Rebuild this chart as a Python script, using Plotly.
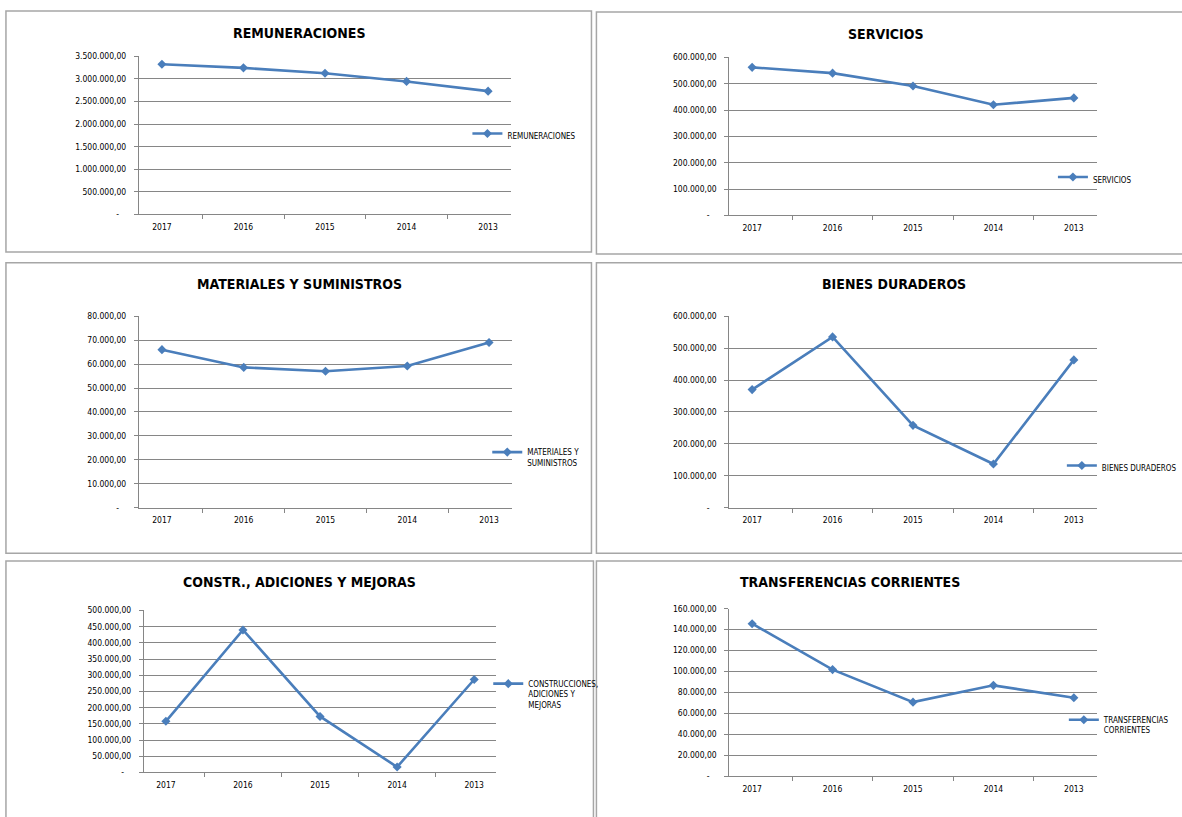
import plotly.graph_objects as go

# ---------------- data ----------------
years = ["2017", "2016", "2015", "2014", "2013"]

remuneraciones = [3325000, 3245000, 3125000, 2945000, 2730000]
servicios = [562000, 540000, 491000, 420000, 446000]
materiales = [66000, 58600, 57000, 59200, 69000]
bienes = [370000, 535000, 258000, 137000, 463000]
construcciones = [158000, 440000, 173000, 17000, 287000]
transferencias = [145500, 101800, 70800, 86800, 75000]

titles = ["REMUNERACIONES", "SERVICIOS", "MATERIALES Y SUMINISTROS",
          "BIENES DURADEROS", "CONSTR., ADICIONES Y MEJORAS",
          "TRANSFERENCIAS CORRIENTES"]
legend_names = ["REMUNERACIONES", "SERVICIOS", "MATERIALES Y<br>SUMINISTROS",
                "BIENES DURADEROS", "CONSTRUCCIONES,<br>ADICIONES Y<br>MEJORAS",
                "TRANSFERENCIAS<br>CORRIENTES"]
y_max = [3500000, 600000, 80000, 600000, 500000, 160000]
y_step = [500000, 100000, 10000, 100000, 50000, 20000]

series = [remuneraciones, servicios, materiales, bienes, construcciones, transferencias]

# ---------------- layout (pixels of the 1182x817 target) ----------------
W, H = 1182, 817
# panel frames: x0, y0, x1, y1 (right-hand frames run past the page edge)
frames = [(6, 6, 596, 250), (601, 7, 1200, 252),
          (6, 261, 596, 555), (601, 261, 1200, 555),
          (6, 563, 598, 830), (601, 563, 1200, 830)]
# plot areas: x0, x1, ytop, ybottom
plots = [(140, 515, 52, 212), (735, 1105, 53, 213),
         (140, 516, 315, 509), (735, 1105, 315, 509),
         (145, 500, 613, 777), (735, 1105, 611, 781)]
# title centers
title_pos = [(302, 28), (893, 29), (302, 282), (901, 282), (302, 584), (857, 584)]
# legend: text start x, center y
legend_pos = [(509, 133), (1099, 177), (529, 458), (1108, 469), (530, 698), (1110, 729)]

BLUE = "#4A7EBB"
GRID = "#868686"
FONT = "DejaVu Sans Condensed, Liberation Sans Narrow, sans-serif"


def px(x):
    return x / W


def py(y):
    return 1 - y / H


def fmt(v):
    if v == 0:
        return "-\u00a0\u00a0\u00a0"
    s = f"{int(v):,}".replace(",", ".")
    return s + ",00"


fig = go.Figure()
shapes = []
annotations = []
layout = {}

for i in range(6):
    n = i + 1
    xa = "xaxis" if n == 1 else f"xaxis{n}"
    ya = "yaxis" if n == 1 else f"yaxis{n}"
    lg = "legend" if n == 1 else f"legend{n}"
    x0, x1, yt, yb = plots[i]

    fig.add_trace(go.Scatter(
        x=years, y=series[i], name=legend_names[i], mode="lines+markers",
        line=dict(color=BLUE, width=2.6),
        marker=dict(symbol="diamond", size=7, color=BLUE),
        xaxis="x" if n == 1 else f"x{n}", yaxis="y" if n == 1 else f"y{n}",
        legend=lg, showlegend=True, hoverinfo="x+y",
    ))

    ticks = list(range(0, y_max[i] + 1, y_step[i]))
    layout[xa] = dict(
        domain=[px(x0), px(x1)], anchor="y" if n == 1 else f"y{n}",
        type="category", categoryorder="array", categoryarray=years,
        showline=True, linecolor=GRID, linewidth=1,
        ticks="outside", tickson="boundaries", ticklen=4, tickcolor=GRID,
        showgrid=False, zeroline=False,
        tickfont=dict(family=FONT, size=8.5, color="#000000"),
        ticklabelstandoff=4, fixedrange=True,
    )
    layout[ya] = dict(
        domain=[py(yb), py(yt)], anchor="x" if n == 1 else f"x{n}",
        range=[0, y_max[i]], tickvals=ticks, ticktext=[fmt(t) for t in ticks],
        showline=True, linecolor=GRID, linewidth=1,
        showgrid=True, gridcolor=GRID, gridwidth=1, zeroline=False,
        ticks="outside", ticklen=4, tickcolor=GRID,
        tickfont=dict(family=FONT, size=8.5, color="#000000"),
        ticklabelstandoff=6, fixedrange=True,
    )
    tx, ty = legend_pos[i]
    layout[lg] = dict(
        x=px(tx - 38), y=py(ty), xanchor="left", yanchor="middle",
        xref="paper", yref="paper", bgcolor="rgba(0,0,0,0)",
        font=dict(family=FONT, size=8, color="#000000"),
        itemwidth=30, valign="top", tracegroupgap=0,
    )

    fx0, fy0, fx1, fy1 = frames[i]
    shapes.append(dict(type="rect", xref="paper", yref="paper",
                       x0=px(fx0), x1=px(fx1), y0=py(fy1), y1=py(fy0),
                       line=dict(color="#A6A6A6", width=1.5), layer="below"))
    cx, cy = title_pos[i]
    annotations.append(dict(text=f"<b>{titles[i]}</b>", x=px(cx), y=py(cy),
                            xref="paper", yref="paper", showarrow=False,
                            xanchor="center", yanchor="middle",
                            font=dict(family=FONT, size=14, color="#000000")))

fig.update_layout(
    autosize=True,
    margin=dict(l=0, r=0, t=0, b=0),
    paper_bgcolor="white", plot_bgcolor="white",
    shapes=shapes, annotations=annotations,
    **layout,
)

fig.write_html(
    "out.html",
    default_width="100vw", default_height="100vh",
    config={"displayModeBar": False, "responsive": True},
    post_script=("document.documentElement.style.overflow='hidden';"
                 "document.body.style.overflow='hidden';"
                 "document.documentElement.style.margin='0px';"
                 "document.body.style.margin='0px';"
                 "document.body.style.padding='0px';"
                 "Plotly.Plots.resize(document.getElementById('{plot_id}'));"),
)
